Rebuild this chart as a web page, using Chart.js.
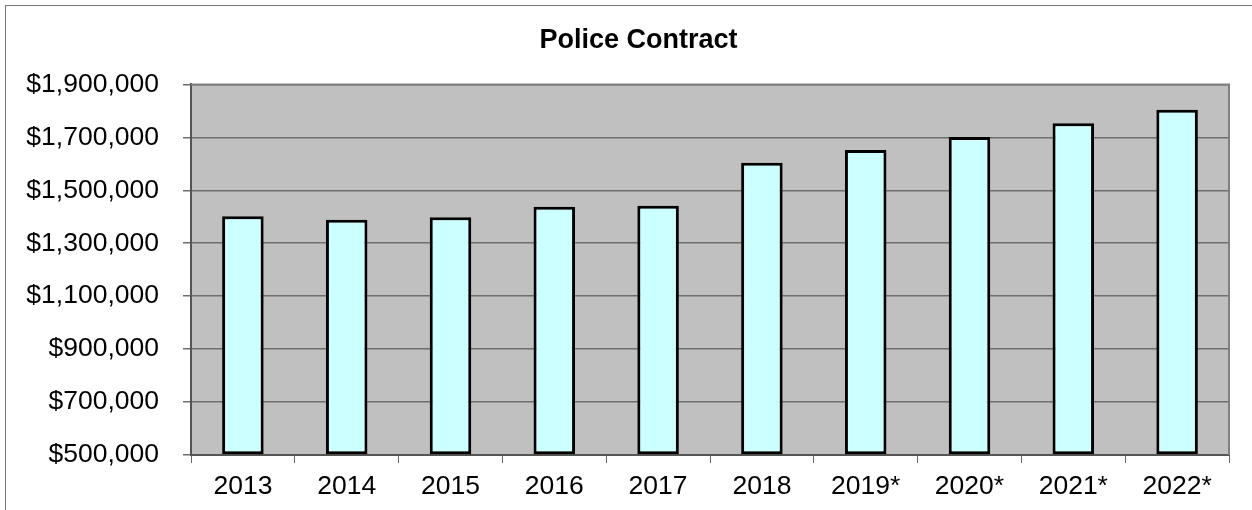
<!DOCTYPE html>
<html>
<head>
<meta charset="utf-8">
<title>Police Contract</title>
<script src="https://cdn.jsdelivr.net/npm/chart.js@4/dist/chart.umd.min.js"></script>
<style>
    html, body { margin: 0; padding: 0; background: #fff; }
    #wrap { width: 1252px; height: 510px; position: relative; }
</style>
</head>
<body>
<div id="wrap"><canvas id="policeChart"></canvas></div>
<script>
    'use strict';

    const years = ['2013', '2014', '2015', '2016', '2017', '2018', '2019*', '2020*', '2021*', '2022*'];
    const contractCost = [1402000, 1389000, 1398000, 1438000, 1442000, 1604000, 1652000, 1701000, 1753000, 1804000];
    const yMin = 500000;
    const yMax = 1900000;
    const yStep = 200000;

    const FONT = 'Arial, "Liberation Sans", sans-serif';

    // grey plot background, outer frame and the top/right edge of the plot
    const plotFrame = {
        id: 'plotFrame',
        beforeDraw(chart) {
            let ctx = chart.ctx;
            let a = chart.chartArea;
            ctx.save();
            ctx.fillStyle = '#c0c0c0';
            ctx.fillRect(a.left, a.top, a.right - a.left, a.bottom - a.top);
            ctx.strokeStyle = '#777';
            ctx.lineWidth = 1;
            ctx.strokeRect(5.5, 5.5, chart.width + 20, chart.height + 20);
            ctx.restore();
        },
        afterDraw(chart) {
            let ctx = chart.ctx;
            let a = chart.chartArea;
            ctx.save();
            ctx.strokeStyle = '#808080';
            ctx.lineWidth = 2;
            ctx.beginPath();
            ctx.moveTo(a.left, a.top);
            ctx.lineTo(a.right, a.top);
            ctx.lineTo(a.right, a.bottom);
            ctx.stroke();
            ctx.restore();
        }
    };

    let canvas = document.getElementById('policeChart');
    new Chart(canvas, {
        type: 'bar',
        data: {
            labels: years,
            datasets: [{
                data: contractCost,
                base: yMin,
                backgroundColor: '#ccffff',
                borderColor: '#000',
                borderWidth: 3,
                borderSkipped: false,
                categoryPercentage: 1,
                barPercentage: 0.4
            }]
        },
        options: {
            responsive: true,
            maintainAspectRatio: false,
            animation: false,
            layout: { padding: { left: 25, right: 0, top: 0, bottom: 0 } },
            plugins: {
                legend: { display: false },
                tooltip: { enabled: false },
                title: {
                    display: true,
                    text: 'Police Contract',
                    color: '#000',
                    font: { family: FONT, size: 27, weight: 'bold' },
                    padding: { top: 24, bottom: 28 }
                }
            },
            scales: {
                x: {
                    grid: {
                        display: true,
                        drawOnChartArea: false,
                        drawTicks: true,
                        tickLength: 8,
                        color: '#666',
                        offset: true
                    },
                    border: { display: true, color: '#555', width: 2 },
                    ticks: {
                        color: '#000',
                        padding: 8,
                        maxRotation: 0,
                        font: { family: FONT, size: 26.5 }
                    },
                    afterFit(scale) { scale.height = 55; }
                },
                y: {
                    min: yMin,
                    max: yMax,
                    grid: {
                        color: '#6e6e6e',
                        lineWidth: 1.5,
                        drawTicks: true,
                        tickLength: 8
                    },
                    border: { display: true, color: '#555', width: 2 },
                    ticks: {
                        stepSize: yStep,
                        color: '#000',
                        padding: 24,
                        font: { family: FONT, size: 26.5 },
                        callback: (v) => '$' + v.toLocaleString('en-US')
                    },
                    afterFit(scale) { scale.width = 166; }
                },
                // empty strip on the right so the title centres over the whole frame
                yRight: {
                    position: 'right',
                    display: true,
                    grid: { display: false, drawTicks: false },
                    border: { display: false },
                    ticks: { display: false },
                    afterFit(scale) { scale.width = 23; }
                }
            }
        },
        plugins: [plotFrame]
    });
</script>
</body>
</html>
